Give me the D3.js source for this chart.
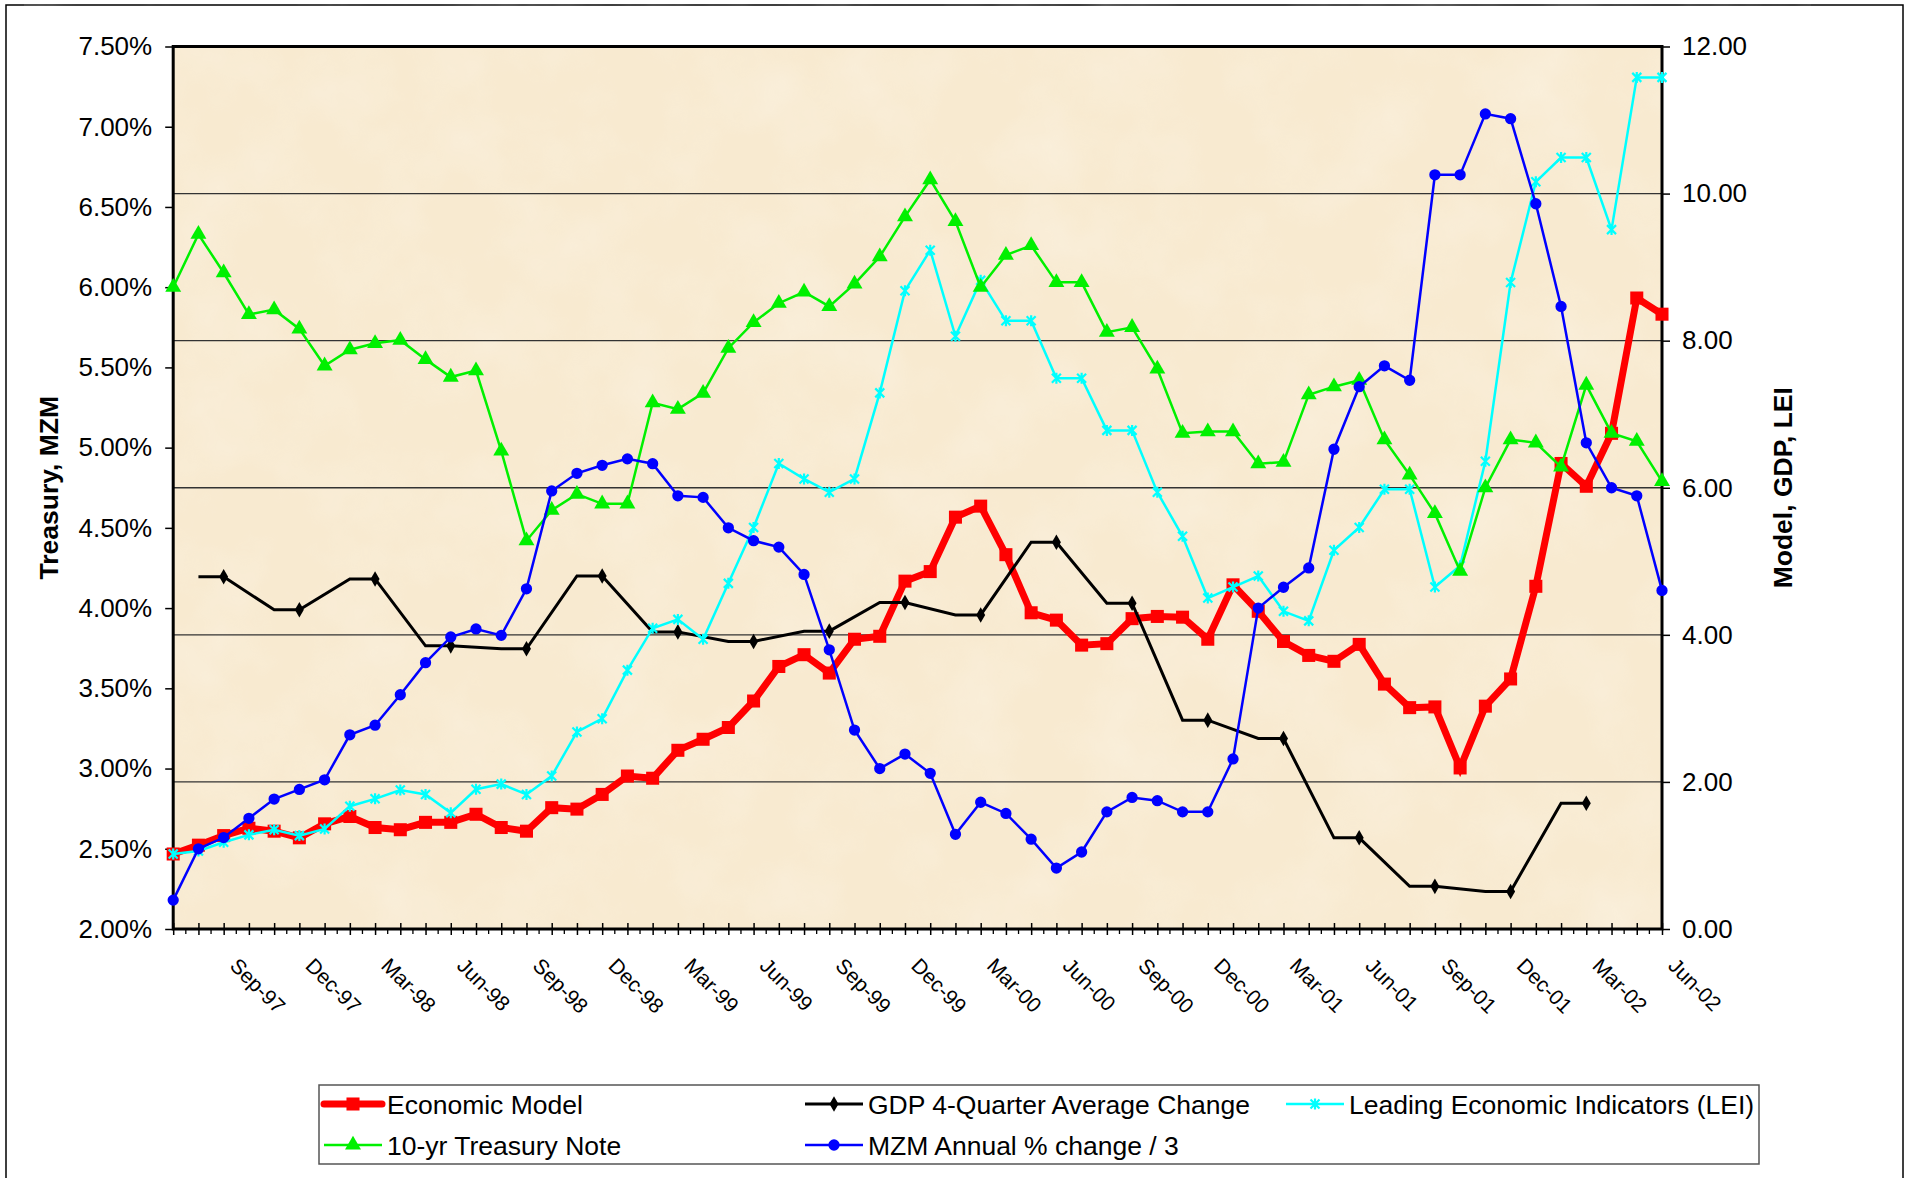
<!DOCTYPE html>
<html>
<head>
<meta charset="utf-8">
<script src="https://cdn.jsdelivr.net/npm/d3@7"></script>
<style>
  body { margin: 0; background: #fff; }
  svg text { font-family: Arial, 'Liberation Sans', sans-serif; fill: #000; }
</style>
</head>
<body>
<div id="graf"></div>
<script>
// I. Datos
meses = ['Jul-97','Aug-97','Sep-97','Oct-97','Nov-97','Dec-97',
         'Jan-98','Feb-98','Mar-98','Apr-98','May-98','Jun-98','Jul-98','Aug-98','Sep-98','Oct-98','Nov-98','Dec-98',
         'Jan-99','Feb-99','Mar-99','Apr-99','May-99','Jun-99','Jul-99','Aug-99','Sep-99','Oct-99','Nov-99','Dec-99',
         'Jan-00','Feb-00','Mar-00','Apr-00','May-00','Jun-00','Jul-00','Aug-00','Sep-00','Oct-00','Nov-00','Dec-00',
         'Jan-01','Feb-01','Mar-01','Apr-01','May-01','Jun-01','Jul-01','Aug-01','Sep-01','Oct-01','Nov-01','Dec-01',
         'Jan-02','Feb-02','Mar-02','Apr-02','May-02','Jun-02']

etiquetasX = ['Sep-97','Dec-97','Mar-98','Jun-98','Sep-98','Dec-98','Mar-99','Jun-99','Sep-99','Dec-99',
              'Mar-00','Jun-00','Sep-00','Dec-00','Mar-01','Jun-01','Sep-01','Dec-01','Mar-02','Jun-02']

// eje derecho
modelo = [1.02,1.14,1.27,1.37,1.33,1.24,1.43,1.53,1.38,1.35,
          1.45,1.45,1.56,1.38,1.33,1.65,1.63,1.83,2.08,2.05,
          2.43,2.58,2.74,3.10,3.57,3.73,3.48,3.94,3.98,4.73,
          4.86,5.60,5.75,5.09,4.30,4.20,3.86,3.88,4.22,4.25,
          4.24,3.94,4.68,4.32,3.91,3.72,3.64,3.87,3.33,3.01,
          3.02,2.19,3.03,3.40,4.66,6.33,6.02,6.74,8.58,8.36]

gdp = [null,4.79,4.79,null,4.34,4.34,null,4.76,4.76,null,
       3.85,3.85,null,3.81,3.81,null,4.80,4.80,null,4.04,
       4.04,null,3.91,3.91,null,4.05,4.05,null,4.44,4.44,
       null,4.27,4.27,null,5.26,5.26,null,4.43,4.43,null,
       2.84,2.84,null,2.59,2.59,null,1.24,1.24,null,0.58,
       0.58,null,0.51,0.51,null,1.71,1.71,null,null,null]

lei = [1.02,1.06,1.18,1.28,1.35,1.27,1.36,1.67,1.77,1.89,
       1.83,1.58,1.90,1.97,1.83,2.08,2.68,2.86,3.52,4.09,
       4.21,3.94,4.70,5.46,6.33,6.12,5.94,6.12,7.29,8.68,
       9.23,8.06,8.82,8.27,8.27,7.49,7.49,6.78,6.78,5.94,
       5.34,4.50,4.65,4.80,4.32,4.19,5.15,5.46,5.98,5.98,
       4.65,4.94,6.36,8.79,10.16,10.49,10.49,9.51,11.58,11.58]

// eje izquierdo (%)
tesoro = [6.00,6.33,6.09,5.83,5.86,5.74,5.51,5.61,5.65,5.67,
          5.55,5.44,5.48,4.98,4.42,4.61,4.71,4.65,4.65,5.28,
          5.24,5.34,5.62,5.78,5.90,5.97,5.88,6.02,6.19,6.44,
          6.67,6.41,6.00,6.20,6.26,6.03,6.03,5.72,5.75,5.49,
          5.09,5.10,5.10,4.90,4.91,5.33,5.38,5.42,5.05,4.83,
          4.59,4.23,4.75,5.05,5.03,4.88,5.39,5.09,5.04,4.79]

mzm = [2.18,2.50,2.57,2.69,2.81,2.87,2.93,3.21,3.27,3.46,
       3.66,3.82,3.87,3.83,4.12,4.73,4.84,4.89,4.93,4.90,
       4.70,4.69,4.50,4.42,4.38,4.21,3.74,3.24,3.00,3.09,
       2.97,2.59,2.79,2.72,2.56,2.38,2.48,2.73,2.82,2.80,
       2.73,2.73,3.06,4.00,4.13,4.25,4.99,5.38,5.51,5.42,
       6.70,6.70,7.08,7.05,6.52,5.88,5.03,4.75,4.70,4.11]

ticksIzq = [2.0,2.5,3.0,3.5,4.0,4.5,5.0,5.5,6.0,6.5,7.0,7.5]
ticksDer = [0,2,4,6,8,10,12]

// II. Configuración
ancho_total = 1911
alto_total = 1178
margins = { top: 46.5, left: 173.2 }
ancho = 1662 - margins.left
alto  = 929 - margins.top

svg = d3.select('#graf').append('svg')
        .attr('width', ancho_total)
        .attr('height', alto_total)

// textura tipo pergamino para el fondo
filtro = svg.append('defs').append('filter').attr('id', 'papel')
filtro.append('feTurbulence')
      .attr('type', 'fractalNoise')
      .attr('baseFrequency', 0.012)
      .attr('numOctaves', 4)
      .attr('seed', 7)
filtro.append('feColorMatrix')
      .attr('values', '0 0 0 0 1  0 0 0 0 1  0 0 0 0 1  0.9 0 0 0 -0.35')

// marco exterior
svg.append('rect')
   .attr('x', 6).attr('y', 5)
   .attr('width', 1897).attr('height', 1185)
   .attr('fill', '#fff')
   .attr('stroke', '#000')
   .attr('stroke-width', 1.5)

g = svg.append('g')
       .attr('transform', `translate(${ margins.left }, ${ margins.top })`)

x = d3.scalePoint().domain(meses).range([0, ancho])
yIzq = d3.scaleLinear().domain([2, 7.5]).range([alto, 0])
yDer = d3.scaleLinear().domain([0, 12]).range([alto, 0])

// fondo
g.append('rect')
 .attr('width', ancho).attr('height', alto)
 .attr('fill', '#f8ead0')
g.append('rect')
 .attr('width', ancho).attr('height', alto)
 .attr('filter', 'url(#papel)')
 .attr('opacity', 0.45)

// líneas de cuadrícula (eje derecho)
g.selectAll('.grid')
 .data(ticksDer.filter(d => d > 0 && d < 12))
 .enter().append('line')
   .attr('x1', 0).attr('x2', ancho)
   .attr('y1', d => yDer(d)).attr('y2', d => yDer(d))
   .attr('stroke', '#333')
   .attr('stroke-width', 1.3)

// III. Ejes
yAxisIzq = g.append('g')
  .call(d3.axisLeft(yIzq).tickValues(ticksIzq)
          .tickFormat(d => d.toFixed(2) + '%')
          .tickSize(8).tickPadding(13))
yAxisDer = g.append('g')
  .attr('transform', `translate(${ ancho }, 0)`)
  .call(d3.axisRight(yDer).tickValues(ticksDer)
          .tickFormat(d3.format('.2f'))
          .tickSize(8).tickPadding(12))

xAxisGroup = g.append('g')
  .attr('transform', `translate(0, ${ alto })`)
  .call(d3.axisBottom(x).tickSize(6).tickFormat(''))
xAxisGroup.selectAll('.tick line').attr('y1', -6)

// marcas menores entre meses
g.append('g').selectAll('line')
 .data(meses.slice(1))
 .enter().append('line')
   .attr('x1', (d, i) => (x(meses[i]) + x(d)) / 2)
   .attr('x2', (d, i) => (x(meses[i]) + x(d)) / 2)
   .attr('y1', alto).attr('y2', alto + 5)
   .attr('stroke', '#000').attr('stroke-width', 1.3)

g.selectAll('.domain').remove()
g.selectAll('.tick line').attr('stroke', '#000').attr('stroke-width', 1.5)
yAxisIzq.selectAll('text').style('font-size', '26px')
yAxisDer.selectAll('text').style('font-size', '26px')

g.selectAll('.etq')
 .data(etiquetasX)
 .enter().append('text')
   .attr('transform', d => `translate(${ x(d) + 5 }, ${ alto + 38 }) rotate(45)`)
   .style('font-size', '21px')
   .text(d => d)

// marco del área de trazado
g.append('rect')
 .attr('width', ancho).attr('height', alto)
 .attr('fill', 'none')
 .attr('stroke', '#000')
 .attr('stroke-width', 3)

// títulos de ejes
svg.append('text')
   .attr('transform', `translate(49, ${ margins.top + alto / 2 }) rotate(-90)`)
   .attr('text-anchor', 'middle')
   .attr('dominant-baseline', 'central')
   .style('font-size', '26.5px').style('font-weight', 'bold')
   .text('Treasury, MZM')
svg.append('text')
   .attr('transform', `translate(1783, ${ margins.top + alto / 2 }) rotate(-90)`)
   .attr('text-anchor', 'middle')
   .attr('dominant-baseline', 'central')
   .style('font-size', '26.5px').style('font-weight', 'bold')
   .text('Model, GDP, LEI')

// IV. Series
asterisco = 'M-4.5,-4.5L4.5,4.5M-4.5,4.5L4.5,-4.5M0,-5.5L0,5.5'

series = [
  { nombre: 'Economic Model', valores: modelo, y: yDer, color: '#ff0000', ancho: 7,
    marca: d3.symbol(d3.symbolSquare, 170)(), relleno: true },
  { nombre: 'GDP 4-Quarter Average Change', valores: gdp, y: yDer, color: '#000000', ancho: 3,
    marca: d3.symbol(d3.symbolDiamond, 70)(), relleno: true, soloTrimestre: true },
  { nombre: 'Leading Economic Indicators (LEI)', valores: lei, y: yDer, color: '#00ffff', ancho: 2.5,
    marca: asterisco, relleno: false },
  { nombre: '10-yr Treasury Note', valores: tesoro, y: yIzq, color: '#00f000', ancho: 2.5,
    marca: d3.symbol(d3.symbolTriangle, 110)(), relleno: true },
  { nombre: 'MZM Annual % change / 3', valores: mzm, y: yIzq, color: '#0000ff', ancho: 2.5,
    marca: d3.symbol(d3.symbolCircle, 100)(), relleno: true }
]

series.forEach(s => {
  puntos = s.valores.map((v, i) => ({ mes: meses[i], v: v }))
                    .filter(d => d.v !== null)
  linea = d3.line().x(d => x(d.mes)).y(d => s.y(d.v))
  g.append('path')
   .datum(puntos)
   .attr('d', linea)
   .attr('fill', 'none')
   .attr('stroke', s.color)
   .attr('stroke-width', s.ancho)
   .attr('stroke-linejoin', 'miter')

  marcados = s.soloTrimestre ? puntos.filter(d => etiquetasX.includes(d.mes)) : puntos
  g.selectAll(null)
   .data(marcados)
   .enter().append('path')
     .attr('transform', d => `translate(${ x(d.mes) }, ${ s.y(d.v) })`)
     .attr('d', s.marca)
     .attr('fill', s.relleno ? s.color : 'none')
     .attr('stroke', s.color)
     .attr('stroke-width', s.relleno ? 0 : 2.2)
})

// V. Leyenda
leyenda = svg.append('g')
leyenda.append('rect')
       .attr('x', 319).attr('y', 1085)
       .attr('width', 1440).attr('height', 79)
       .attr('fill', '#fff')
       .attr('stroke', '#555')
       .attr('stroke-width', 1.5)

posLeyenda = [[324, 1104], [805, 1104], [1286, 1104], [324, 1145], [805, 1145]]

series.forEach((s, i) => {
  p = posLeyenda[i]
  item = leyenda.append('g').attr('transform', `translate(${ p[0] }, ${ p[1] })`)
  item.append('line')
      .attr('x1', 0).attr('x2', 58)
      .attr('stroke', s.color)
      .attr('stroke-width', s.ancho)
      .attr('stroke-linecap', s.ancho > 5 ? 'round' : 'butt')
  item.append('path')
      .attr('transform', 'translate(29, 0)')
      .attr('d', s.marca)
      .attr('fill', s.relleno ? s.color : 'none')
      .attr('stroke', s.color)
      .attr('stroke-width', s.relleno ? 0 : 2.2)
  item.append('text')
      .attr('x', 63).attr('y', 9.5)
      .style('font-size', '26.5px')
      .text(s.nombre)
})
</script>
</body>
</html>
